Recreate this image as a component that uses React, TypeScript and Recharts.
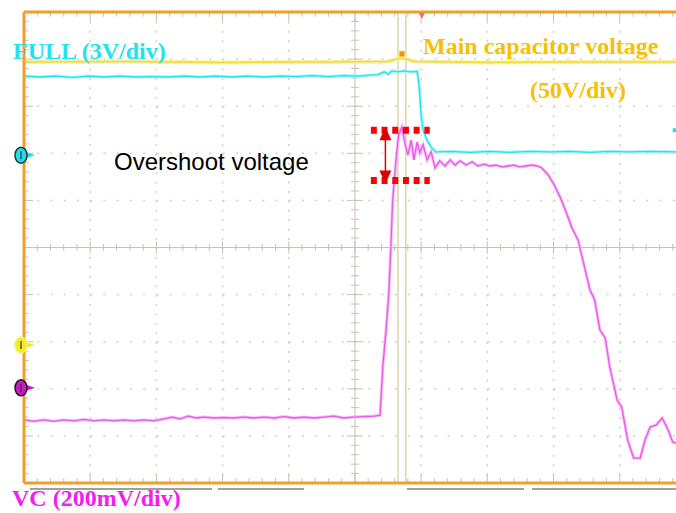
import { CartesianGrid, Line, LineChart, ReferenceDot, ReferenceLine, XAxis, YAxis } from 'recharts';

// screen units: x in horizontal divisions (0..10, the last 0.15 div is cut off),
// y in vertical divisions from the centre line (-5..5)
const vcX = [0, 0.15, 0.3, 0.45, 0.6, 0.76, 0.91, 1.06, 1.21, 1.36, 1.51, 1.66, 1.81, 1.96, 2.11, 2.24, 2.36, 2.48, 2.6, 2.72, 2.87, 3.02, 3.17, 3.32, 3.47, 3.63, 3.78, 3.93, 4.08, 4.23, 4.38, 4.53, 4.68, 4.83, 4.98, 5.14, 5.29, 5.38, 5.42, 5.47, 5.51, 5.54, 5.57, 5.62, 5.66, 5.71, 5.76, 5.8, 5.85, 5.89, 5.94, 5.98, 6.03, 6.09, 6.15, 6.21, 6.28, 6.36, 6.44, 6.51, 6.59, 6.68, 6.77, 6.86, 6.95, 7.04, 7.13, 7.22, 7.31, 7.4, 7.49, 7.58, 7.67, 7.76, 7.82, 7.92, 8.01, 8.1, 8.19, 8.28, 8.37, 8.46, 8.55, 8.62, 8.7, 8.78, 8.85, 8.96, 9.03, 9.12, 9.21, 9.31, 9.38, 9.46, 9.55, 9.64, 9.73, 9.8, 9.85];
const vcY = [-3.66, -3.69, -3.66, -3.69, -3.66, -3.68, -3.65, -3.68, -3.66, -3.68, -3.66, -3.68, -3.66, -3.68, -3.64, -3.6, -3.64, -3.58, -3.62, -3.6, -3.62, -3.61, -3.62, -3.6, -3.62, -3.6, -3.62, -3.59, -3.62, -3.6, -3.62, -3.6, -3.58, -3.62, -3.6, -3.59, -3.58, -3.56, -2.54, -1.75, -1.01, -0.05, 1.01, 1.86, 2.39, 2.56, 2.18, 1.96, 2.28, 1.86, 2.24, 2.01, 2.18, 1.86, 2.03, 1.69, 1.84, 1.73, 1.86, 1.75, 1.84, 1.75, 1.82, 1.73, 1.77, 1.73, 1.75, 1.71, 1.73, 1.75, 1.71, 1.73, 1.75, 1.73, 1.69, 1.54, 1.33, 1.07, 0.75, 0.41, 0.16, -0.37, -0.9, -1.11, -1.75, -1.92, -2.54, -3.24, -3.39, -4.09, -4.47, -4.47, -4.09, -3.81, -3.77, -3.62, -3.87, -4.13, -4.15];

const fullX = [0, 0.24, 0.48, 0.73, 0.97, 1.21, 1.45, 1.69, 1.93, 2.18, 2.42, 2.66, 2.9, 3.14, 3.38, 3.63, 3.87, 4.11, 4.35, 4.59, 4.83, 5.08, 5.23, 5.35, 5.44, 5.5, 5.56, 5.65, 5.74, 5.83, 5.94, 5.97, 6.0, 6.03, 6.09, 6.15, 6.22, 6.44, 6.74, 7.04, 7.34, 7.64, 7.95, 8.25, 8.55, 8.85, 9.15, 9.46, 9.85];
const fullY = [3.64, 3.62, 3.64, 3.61, 3.64, 3.62, 3.64, 3.62, 3.63, 3.62, 3.64, 3.62, 3.64, 3.62, 3.64, 3.62, 3.64, 3.63, 3.65, 3.63, 3.65, 3.64, 3.66, 3.67, 3.73, 3.68, 3.75, 3.73, 3.75, 3.73, 3.74, 3.43, 2.81, 2.49, 2.28, 2.13, 2.03, 2.04, 2.02, 2.04, 2.02, 2.04, 2.03, 2.04, 2.02, 2.04, 2.03, 2.04, 2.03];

const mainX = [0, 1.5, 3.0, 4.5, 5.5, 5.6, 5.7, 5.8, 5.9, 7.0, 8.5, 9.85];
const mainY = [3.94, 3.95, 3.93, 3.94, 3.95, 3.99, 4.02, 3.99, 3.95, 3.93, 3.94, 3.94];

const cursorX = [5.65, 5.77];
const overshootTop = 2.49;
const overshootBottom = 1.42;
const overshootFrom = 5.24;
const overshootTo = 6.13;
const arrowX = 5.46;

const channelLevels = [
  { y: 1.96, fill: '#22dcea', ring: '#1f3a40' },
  { y: -2.07, fill: '#f4ec20', ring: '#f8f070' },
  { y: -2.98, fill: '#c21cc2', ring: '#301030' },
];

const majorX = [1, 2, 3, 4, 6, 7, 8, 9];
const majorY = [-4, -3, -2, -1, 1, 2, 3, 4];
const minorX = Array.from({ length: 50 }, (_, i) => Math.round(i * 20) / 100);
const minorY = Array.from({ length: 51 }, (_, i) => Math.round(-500 + i * 20) / 100);

const X_MAX = 9.85;
const ORANGE = '#f0a02a';
const TICK = '#c9c0ae';

const pts = (xs: number[], ys: number[]) => xs.map((x, i) => ({ x, y: ys[i] }));
const vcData = pts(vcX, vcY);
const fullData = pts(fullX, fullY);
const mainData = pts(mainX, mainY);

const isMajor = (v: number) => Math.abs(v - Math.round(v)) < 0.001;

function ChannelMarker(fill: string, ring: string) {
  return (props: any) => {
    const { cx, cy } = props;
    return (
      <g>
        <path d={`M${cx + 2},${cy - 3} L${cx + 11},${cy} L${cx + 2},${cy + 3} Z`} fill={fill} />
        <ellipse cx={cx - 3} cy={cy} rx={6} ry={8} fill={fill} stroke={ring} strokeWidth={1.5} />
        <rect x={cx - 4} y={cy - 4} width={2} height={8} fill="#333" opacity={0.6} />
      </g>
    );
  };
}

export default function App() {
  const serif = '"Liberation Serif", "Times New Roman", serif';
  return (
    <div style={{ position: 'absolute', left: 0, top: 0, width: 676, height: 513, background: '#fff' }}>
      <LineChart width={676} height={513} margin={{ top: 12, right: 0, bottom: 30, left: 24 }}>
        <XAxis type="number" dataKey="x" domain={[0, X_MAX]} allowDataOverflow hide />
        <YAxis type="number" dataKey="y" domain={[-5, 5]} allowDataOverflow hide />
        <CartesianGrid
          horizontal
          vertical={false}
          horizontalValues={majorY}
          stroke="#d6cec0"
          strokeWidth={1.5}
          strokeDasharray="2 11.24"
        />
        <CartesianGrid
          horizontal={false}
          vertical
          verticalValues={majorX}
          stroke="#d6cec0"
          strokeWidth={1.5}
          strokeDasharray="2 7.42"
        />
        <ReferenceLine x={5} stroke={TICK} strokeWidth={1} />
        <ReferenceLine y={0} stroke={TICK} strokeWidth={1} />

        {minorX.map((x) => (
          <ReferenceLine
            key={`cx${x}`}
            segment={[{ x, y: isMajor(x) ? -0.13 : -0.07 }, { x, y: isMajor(x) ? 0.13 : 0.07 }]}
            stroke={TICK}
          />
        ))}
        {minorY.map((y) => (
          <ReferenceLine
            key={`cy${y}`}
            segment={[{ x: isMajor(y) ? 4.88 : 4.94, y }, { x: isMajor(y) ? 5.12 : 5.06, y }]}
            stroke={TICK}
          />
        ))}
        {minorX.map((x) => (
          <ReferenceLine
            key={`tx${x}`}
            segment={[{ x, y: 5 }, { x, y: isMajor(x) ? 4.8 : 4.9 }]}
            stroke={TICK}
          />
        ))}
        {minorX.map((x) => (
          <ReferenceLine
            key={`bx${x}`}
            segment={[{ x, y: -5 }, { x, y: isMajor(x) ? -4.8 : -4.9 }]}
            stroke={TICK}
          />
        ))}
        {minorY.map((y) => (
          <ReferenceLine
            key={`ly${y}`}
            segment={[{ x: 0, y }, { x: isMajor(y) ? 0.14 : 0.07, y }]}
            stroke={TICK}
          />
        ))}

        {cursorX.map((x) => (
          <ReferenceLine key={`cur${x}`} x={x} stroke="#c8c27a" strokeWidth={1} />
        ))}

        <Line data={mainData} dataKey="y" type="linear" stroke="#f8eea8" strokeWidth={4} dot={false} isAnimationActive={false} />
        <Line data={mainData} dataKey="y" type="linear" stroke="#f0dc36" strokeWidth={1.5} dot={false} isAnimationActive={false} />
        <Line data={fullData} dataKey="y" type="linear" stroke="#a8f4f8" strokeWidth={3} dot={false} isAnimationActive={false} />
        <Line data={fullData} dataKey="y" type="linear" stroke="#22e4ee" strokeWidth={1.3} dot={false} isAnimationActive={false} />
        <Line data={vcData} dataKey="y" type="linear" stroke="#f8b8f8" strokeWidth={3} dot={false} isAnimationActive={false} />
        <Line data={vcData} dataKey="y" type="linear" stroke="#ee58ee" strokeWidth={1.3} dot={false} isAnimationActive={false} />

        <ReferenceLine
          segment={[{ x: overshootFrom, y: overshootTop }, { x: overshootTo, y: overshootTop }]}
          stroke="#ff0000"
          strokeWidth={7}
          strokeDasharray="6 4.7"
        />
        <ReferenceLine
          segment={[{ x: overshootFrom, y: overshootBottom }, { x: overshootTo, y: overshootBottom }]}
          stroke="#ff0000"
          strokeWidth={7}
          strokeDasharray="6 4.7"
        />
        <ReferenceLine
          segment={[{ x: arrowX, y: overshootTop }, { x: arrowX, y: overshootBottom }]}
          stroke="#e00000"
          strokeWidth={1.5}
        />
        <ReferenceDot
          x={arrowX}
          y={overshootTop}
          ifOverflow="visible"
          shape={(p: any) => (
            <path d={`M${p.cx},${p.cy - 3} L${p.cx - 6},${p.cy + 10} L${p.cx + 6},${p.cy + 10} Z`} fill="#e00000" />
          )}
        />
        <ReferenceDot
          x={arrowX}
          y={overshootBottom}
          ifOverflow="visible"
          shape={(p: any) => (
            <path d={`M${p.cx},${p.cy + 3} L${p.cx - 6},${p.cy - 10} L${p.cx + 6},${p.cy - 10} Z`} fill="#e00000" />
          )}
        />

        <ReferenceLine y={5} stroke={ORANGE} strokeWidth={3} ifOverflow="visible" />
        <ReferenceLine y={-5} stroke={ORANGE} strokeWidth={3} ifOverflow="visible" />
        <ReferenceLine x={0} stroke={ORANGE} strokeWidth={3} ifOverflow="visible" />

        {channelLevels.map((c) => (
          <ReferenceDot key={c.fill} x={0} y={c.y} ifOverflow="visible" shape={ChannelMarker(c.fill, c.ring)} />
        ))}
        <ReferenceDot
          x={5.71}
          y={4.1}
          ifOverflow="visible"
          shape={(p: any) => (
            <g>
              <rect x={p.cx - 4} y={p.cy - 4} width={8} height={8} fill="#f8e870" opacity={0.7} />
              <rect x={p.cx - 2.5} y={p.cy - 3} width={5} height={5} fill="#f09020" />
            </g>
          )}
        />
        <ReferenceDot
          x={6.01}
          y={5}
          ifOverflow="visible"
          shape={(p: any) => (
            <path d={`M${p.cx - 3},${p.cy + 1} L${p.cx + 3},${p.cy + 1} L${p.cx},${p.cy + 7} Z`} fill="#f07060" />
          )}
        />
        <ReferenceDot
          x={9.8}
          y={2.49}
          ifOverflow="visible"
          shape={(p: any) => <rect x={p.cx} y={p.cy - 2} width={4} height={4} fill="#22dcea" />}
        />
      </LineChart>

      <svg width={676} height={513} style={{ position: 'absolute', left: 0, top: 0, pointerEvents: 'none' }}>
        <text x={13} y={59} fill="#22e2ec" fontFamily={serif} fontWeight="bold" fontSize={24}>
          FULL (3V/div)
        </text>
        <text x={423} y={54} fill="#f7c000" fontFamily={serif} fontWeight="bold" fontSize={24}>
          Main capacitor voltage
        </text>
        <text x={530} y={98} fill="#f7c000" fontFamily={serif} fontWeight="bold" fontSize={24}>
          (50V/div)
        </text>
        <text x={114} y={170} fill="#000" fontFamily='"Liberation Sans", Arial, sans-serif' fontSize={24}>
          Overshoot voltage
        </text>
        <text x={12} y={506} fill="#f020f0" fontFamily={serif} fontWeight="bold" fontSize={24}>
          VC (200mV/div)
        </text>
        <g stroke="#a0a0a0" strokeWidth={2}>
          <line x1={30} y1={489} x2={212} y2={489} />
          <line x1={218} y1={489} x2={304} y2={489} />
          <line x1={407} y1={489} x2={524} y2={489} />
          <line x1={532} y1={489} x2={676} y2={489} />
        </g>
      </svg>
    </div>
  );
}
